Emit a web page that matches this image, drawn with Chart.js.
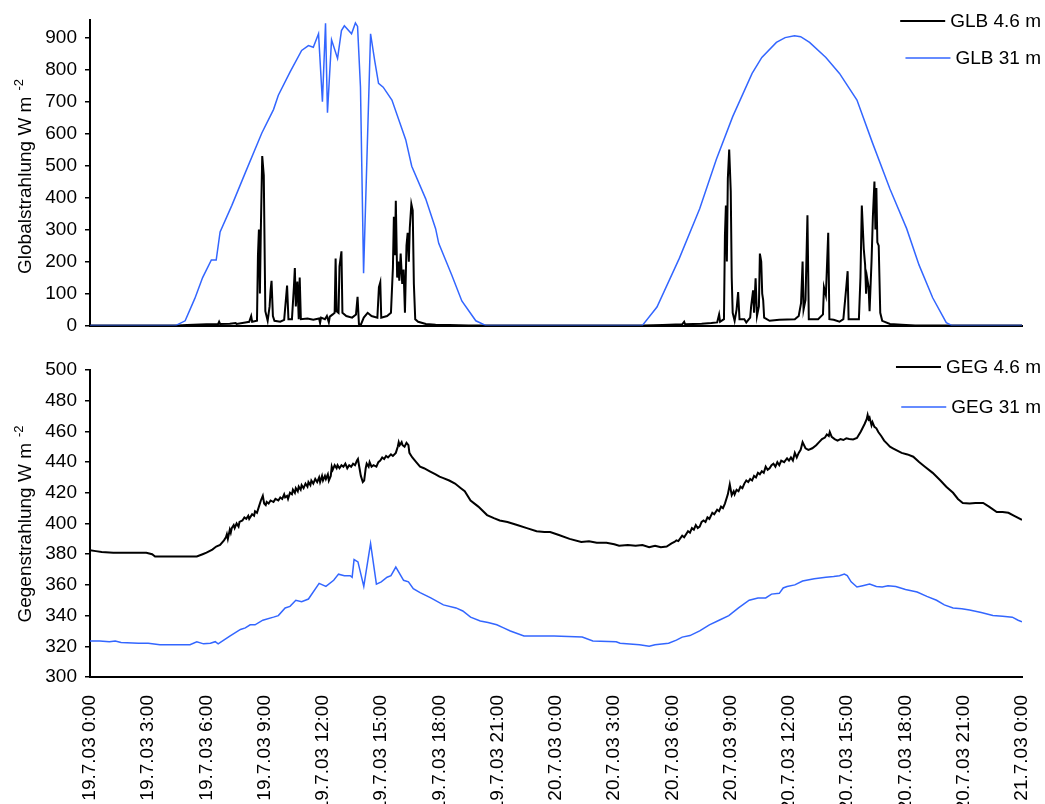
<!DOCTYPE html>
<html>
<head>
<meta charset="utf-8">
<script src="https://cdn.jsdelivr.net/npm/chart.js@4"></script>
<style>
html,body{margin:0;padding:0;background:#fff;}
#top{position:absolute;left:0;top:0;width:1045px;height:345px;}
#bottom{position:absolute;left:0;top:345px;width:1045px;height:459px;}
</style>
</head>
<body>
<div id="top"><canvas id="glb"></canvas></div>
<div id="bottom"><canvas id="geg"></canvas></div>
<script>
// ================= DATA =================
// hours since 19.7.03 0:00
const timeLabels = ["19.7.03 0:00","19.7.03 3:00","19.7.03 6:00","19.7.03 9:00","19.7.03 12:00","19.7.03 15:00",
  "19.7.03 18:00","19.7.03 21:00","20.7.03 0:00","20.7.03 3:00","20.7.03 6:00","20.7.03 9:00","20.7.03 12:00",
  "20.7.03 15:00","20.7.03 18:00","20.7.03 21:00","21.7.03 0:00"];

const glbTicks = [0,100,200,300,400,500,600,700,800,900];
const gegTicks = [300,320,340,360,380,400,420,440,460,480,500];

// GLB 4.6 m
const glb46Hours = [0,4.5,5,6,6.6,6.65,6.7,7.2,7.5,7.55,8,8.2,8.3,8.35,8.6,8.65,8.7,8.75,8.8,8.87,8.95,9,9.03,9.15,9.25,9.3,9.35,9.42,9.5,9.8,10,10.15,10.22,10.4,10.5,10.55,10.6,10.68,10.75,10.8,10.86,11.2,11.5,11.8,11.85,11.9,12.1,12.2,12.3,12.35,12.5,12.6,12.65,12.7,12.8,12.85,12.95,13,13.2,13.5,13.7,13.78,13.85,13.95,14.1,14.3,14.5,14.8,14.88,14.95,15,15.3,15.5,15.6,15.65,15.7,15.75,15.82,15.87,15.93,16,16.08,16.15,16.22,16.3,16.36,16.42,16.47,16.55,16.62,16.68,16.75,16.9,17.3,17.8,18.5,19.5,
  28.5,29.5,30.5,30.6,30.65,31.5,32,32.3,32.4,32.45,32.65,32.7,32.75,32.8,32.85,32.92,33,33.05,33.1,33.2,33.3,33.38,33.45,33.7,33.8,34,34.05,34.15,34.2,34.28,34.35,34.45,34.5,34.57,34.62,34.67,34.72,35,35.5,36.3,36.5,36.62,36.7,36.75,36.85,36.95,37.02,37.5,37.75,37.8,37.9,38.02,38.08,38.3,38.6,38.8,38.95,39.02,39.07,39.6,39.68,39.75,39.85,39.92,39.97,40.02,40.1,40.15,40.25,40.32,40.4,40.45,40.5,40.55,40.62,40.7,40.8,41.2,41.8,42.5,48];
const glb46Values = [0,0,2,4,5,12,5,6,8,5,10,12,30,12,15,220,300,100,305,530,470,200,45,15,60,110,140,30,15,12,18,125,20,20,120,180,60,138,20,150,20,22,18,22,8,25,20,30,10,28,35,40,210,45,40,185,232,40,30,25,35,90,5,3,25,40,30,25,120,135,25,30,40,180,340,220,390,150,200,140,225,130,175,40,250,290,200,305,380,360,130,20,12,5,3,2,0,
  0,2,4,12,4,6,8,10,35,12,20,280,375,200,460,550,420,150,40,15,50,105,20,20,10,25,60,110,40,148,30,60,225,200,100,80,25,15,18,20,30,70,200,50,80,345,20,20,35,120,95,290,20,18,12,20,120,170,20,20,150,375,240,190,100,150,120,45,200,340,450,300,430,260,250,40,15,5,3,0,0];

// GLB 31 m
const glb31Hours = [0,4.4,4.9,5.4,5.8,6.25,6.5,6.7,7.3,8,8.85,9.45,9.7,10.3,10.9,11.25,11.5,11.77,11.97,12.13,12.23,12.44,12.75,12.95,13.1,13.47,13.67,13.78,13.93,14.09,14.45,14.66,14.86,15.1,15.55,16.26,16.57,17.29,17.8,17.96,18.63,19.15,19.87,20.4,
  28.44,29.2,30.35,31.4,32.26,33.1,34.1,34.6,35.35,35.8,36.28,36.6,37.06,37.9,38.6,39.5,40.3,41.2,42.06,42.7,43.4,44.1,44.4,48];
const glb31Values = [0,0,15,85,150,205,205,293,375,478,602,675,720,792,860,875,870,912,700,945,665,893,835,922,937,912,946,935,745,164,912,829,757,745,705,581,498,396,303,257,158,77,15,0,
  0,58,210,365,520,653,788,838,885,900,906,903,885,838,788,705,571,427,303,189,87,9,0,0];

// GEG 4.6 m
const geg46Hours = [0,0.3,0.6,1.2,2,2.9,3.2,3.35,4.5,5.5,5.8,6,6.3,6.5,6.7,
  6.9,7,7.05,7.1,7.2,7.25,7.3,7.4,7.45,7.55,7.65,7.7,7.85,7.95,8.05,8.15,8.2,8.35,8.45,8.5,8.6,8.7,8.8,8.9,8.97,9.05,9.1,9.2,9.3,9.45,9.55,9.7,9.8,9.9,10,10.05,10.15,10.2,10.3,10.4,10.45,10.55,10.6,10.7,10.75,10.85,10.9,11,11.1,11.2,11.25,11.35,11.4,11.5,11.6,11.7,11.8,11.85,11.95,12,12.1,12.15,12.25,12.3,12.4,12.45,12.5,12.6,12.7,12.75,12.85,12.95,13.05,13.15,13.25,13.35,13.45,13.55,13.65,13.75,13.8,13.88,13.95,14.05,14.12,14.2,14.25,14.35,14.4,14.5,14.6,14.75,14.85,14.95,15.05,15.15,15.25,15.35,15.5,15.6,15.75,15.85,15.9,15.95,16.05,16.1,16.2,16.3,16.4,16.45,16.55,16.6,
  16.8,17,17.2,17.5,17.8,18,18.2,18.5,18.8,19.1,19.3,19.6,20,20.45,20.8,21.1,21.5,22,22.5,23,23.4,23.7,24.15,24.7,25.3,25.7,26.1,26.6,27,27.25,27.7,28.1,28.45,28.8,29.1,29.4,29.7,
  29.95,30.1,30.2,30.3,30.5,30.6,30.8,30.9,31,31.1,31.2,31.3,31.4,31.5,31.6,31.7,31.8,31.9,32.05,32.15,32.3,32.4,32.5,32.6,32.7,32.85,32.95,33.05,33.15,33.2,33.3,33.4,33.5,33.6,33.7,33.8,33.9,34,34.1,34.2,34.3,34.4,34.5,34.6,34.7,34.8,34.9,35,35.1,35.2,35.3,35.4,35.5,35.6,35.75,35.9,36,36.1,36.2,36.3,36.4,36.5,36.6,36.7,36.85,37,37.2,37.4,37.55,37.7,37.85,37.95,38.05,38.1,38.2,38.35,38.5,38.65,38.8,38.95,39.1,39.3,39.5,39.7,39.9,40,40.05,40.1,40.15,40.25,40.3,40.4,40.5,40.6,40.75,40.9,41.05,41.2,41.35,41.5,
  41.8,42.1,42.4,42.7,43,43.4,43.8,44.1,44.45,44.7,44.95,45.3,45.6,46,46.3,46.7,47,47.3,47.6,48];
const geg46Values = [382.5,382,381.5,381,381,381,380,378.5,378.5,378.5,380,381,383,385,386,
  389,391,393,390,396,394,397,399,397,400,398,401,402,404,403,405,403,406,405,408,407,411,415,418,413,412,414,413,415,414,416,415,417,416,419,417,418,416,420,419,422,420,423,421,424,422,425,423,426,424,427,425,428,426,429,427,430,427,431,428,431,429,432,428,431,437,435,438,436,438,436,438,437,439,436,438,437,439,438,441,442,436,431,427,428,436,439,437,440,437,438,437,440,441,443,442,444,443,445,444,446,450,453,451,453,451,450,452.5,451,446,444,443,
  440,437,436,434,432,430.5,429.6,428,426,423,421,415,411,405.5,403.5,402,401,399,397,395,394.5,394.5,392.5,390,388,388.5,387.5,387.5,386.5,385.5,386,385.5,386,384.5,385.5,384.5,385,
  387,388,389,388.5,392,391,395,394,397,396,399,397,398,401,402,401,404,403,407,406,409,408,411,410,413,419,425.5,418.5,421,419,422,421,424,423,426,428,427,429,428,431,430,433,432,434,433,437,435,436,438,439,437,440,438,441,440,442.5,441,443,441,446,443,446,448,453,449,448,449,451,453,455,456,458,457,459.6,456.4,455,454,455,454.4,455.5,455,454.8,455.7,460,465,468,470.7,468,469,464,466,463,462,459.6,457,454,452,450,449,448,
  446,445,443.5,440,437,433,428,424,420,416,413.4,413,413.4,413.4,411,407.5,407.5,407,405,402.3];

// GEG 31 m
const geg31Hours = [0,0.5,1,1.3,1.6,2.5,3,3.6,5.15,5.5,5.85,6.2,6.45,6.6,7.2,7.75,8,8.25,8.5,8.9,9.45,9.7,10.05,10.3,10.6,10.9,11.25,11.8,12.15,12.55,12.8,13.1,13.4,13.5,13.6,13.8,14.1,14.45,14.75,15,15.3,15.5,15.75,16.15,16.4,16.65,17,17.55,18.2,18.85,19.2,19.6,20.1,20.5,20.95,21.3,21.65,22.35,23.1,23.9,25.35,25.9,27.1,27.3,28.3,28.8,29.1,29.8,30.2,30.5,30.9,31.4,31.9,32.4,32.9,33.4,33.95,34.4,34.8,35.1,35.5,35.7,35.9,36.3,36.7,37.3,37.9,38.3,38.6,38.85,39,39.2,39.5,39.8,40.15,40.5,40.8,41.1,41.5,42,42.6,43.1,43.6,44,44.45,44.9,45.3,45.9,46.5,47,47.5,47.8,48];
const geg31Values = [323.5,323.5,323,323.5,322.5,322,322,321,321,323,321.6,322,323,321.6,326.7,331,332,334,334,337,339,340,345,346,350,349,350.8,361,359,363,367,366,366,365,376.5,375,359,387,360.5,362,365,366,371.6,363,362,357.5,355,351.5,347,345,343,339,336.5,335.5,334,332,330,326.7,326.7,326.7,326,323.5,323,322,321,320,321,322,324,326,327,330,334,337,340,345,350,351.5,351.5,354,354.5,358,359,360,362.5,364,365,365.5,366,367,366,362,358.6,359.5,360.6,359,358.6,359.5,359,357,355.4,352.5,350,347,345,344.5,343.6,342,340,339.5,339,337,336];

// ================= HELPERS =================
const FONT = '"Liberation Sans", Arial, sans-serif';
const BLUE = "#3366ff";
const pts = (hs, vs) => hs.map((h, i) => ({x: h, y: vs[i]}));

// rotated y title with superscript
const yTitlePlugin = {
  id: "yTitle",
  afterDraw(chart, args, o) {
    const ctx = chart.ctx;
    ctx.save();
    ctx.fillStyle = "#000";
    ctx.font = "19px " + FONT;
    const w1 = ctx.measureText(o.text).width;
    ctx.font = "13px " + FONT;
    const w2 = ctx.measureText(o.sup).width;
    const total = w1 + 6 + w2;
    ctx.translate(o.x, o.cy);
    ctx.rotate(-Math.PI / 2);
    ctx.textBaseline = "alphabetic";
    ctx.textAlign = "left";
    ctx.font = "19px " + FONT;
    ctx.fillText(o.text, -total / 2, 0);
    ctx.font = "13px " + FONT;
    ctx.fillText(o.sup, -total / 2 + w1 + 6, -8);
    ctx.restore();
  }
};

// legend: line + label, right aligned, stacked
const legendPlugin = {
  id: "sideLegend",
  afterDraw(chart, args, o) {
    const ctx = chart.ctx;
    ctx.save();
    ctx.font = "19px " + FONT;
    ctx.textBaseline = "middle";
    ctx.textAlign = "left";
    chart.data.datasets.forEach((ds, i) => {
      const y = o.rows[i];
      const w = ctx.measureText(ds.label).width;
      const tx = o.right - w;
      ctx.strokeStyle = ds.borderColor;
      ctx.lineWidth = ds.borderWidth;
      ctx.beginPath();
      ctx.moveTo(tx - 5 - 45, y);
      ctx.lineTo(tx - 5, y);
      ctx.stroke();
      ctx.fillStyle = "#000";
      ctx.fillText(ds.label, tx, y + 1);
    });
    ctx.restore();
  }
};

function yScale(min, max, ticks) {
  return {
    type: "linear", min, max,
    afterFit: s => { s.width = 90; },
    afterBuildTicks: s => { s.ticks = ticks.map(v => ({value: v})); },
    grid: {display: true, drawOnChartArea: false, drawTicks: true, tickLength: 5, color: "#000", lineWidth: 1.5},
    border: {display: true, color: "#000", width: 2},
    ticks: {color: "#000", font: {family: FONT, size: 19}, padding: 8}
  };
}

// ================= TOP CHART =================
new Chart(document.getElementById("glb"), {
  type: "line",
  data: {datasets: [
    {label: "GLB 4.6 m", data: pts(glb46Hours, glb46Values), borderColor: "#000", borderWidth: 2, order: 1},
    {label: "GLB 31 m", data: pts(glb31Hours, glb31Values), borderColor: BLUE, borderWidth: 1.5, order: 0}
  ]},
  options: {
    responsive: true, maintainAspectRatio: false, animation: false,
    layout: {padding: {top: 20, right: 23, bottom: 17, left: 0}},
    elements: {point: {radius: 0}, line: {tension: 0}},
    scales: {
      x: {type: "linear", min: 0, max: 48,
        afterFit: s => { s.height = 0; },
        grid: {display: false}, ticks: {display: false},
        border: {display: true, color: "#000", width: 2}},
      y: yScale(0, 955, glbTicks)
    },
    plugins: {
      legend: {display: false}, tooltip: {enabled: false},
      yTitle: {text: "Globalstrahlung W m", sup: "-2", x: 31, cy: 176.5},
      sideLegend: {right: 1041, rows: [21, 58]}
    }
  },
  plugins: [yTitlePlugin, legendPlugin]
});

// ================= BOTTOM CHART =================
new Chart(document.getElementById("geg"), {
  type: "line",
  data: {datasets: [
    {label: "GEG 4.6 m", data: pts(geg46Hours, geg46Values), borderColor: "#000", borderWidth: 2, order: 1},
    {label: "GEG 31 m", data: pts(geg31Hours, geg31Values), borderColor: BLUE, borderWidth: 1.5, order: 0}
  ]},
  options: {
    responsive: true, maintainAspectRatio: false, animation: false,
    layout: {padding: {top: 25, right: 23, bottom: 0, left: 0}},
    elements: {point: {radius: 0}, line: {tension: 0}},
    scales: {
      x: {type: "linear", min: 0, max: 48,
        afterFit: s => { s.height = 127; s.paddingLeft = 0; s.paddingRight = 0; },
        afterBuildTicks: s => { s.ticks = timeLabels.map((t, i) => ({value: i * 3})); },
        grid: {display: false},
        border: {display: true, color: "#000", width: 2},
        ticks: {autoSkip: false, maxRotation: 90, minRotation: 90, padding: 10, color: "#000",
          font: {family: FONT, size: 19}, callback: (v, i) => timeLabels[i]}},
      y: yScale(300, 500, gegTicks)
    },
    plugins: {
      legend: {display: false}, tooltip: {enabled: false},
      yTitle: {text: "Gegenstrahlung W m", sup: "-2", x: 31, cy: 179},
      sideLegend: {right: 1041, rows: [22, 62]}
    }
  },
  plugins: [yTitlePlugin, legendPlugin]
});
</script>
</body>
</html>
